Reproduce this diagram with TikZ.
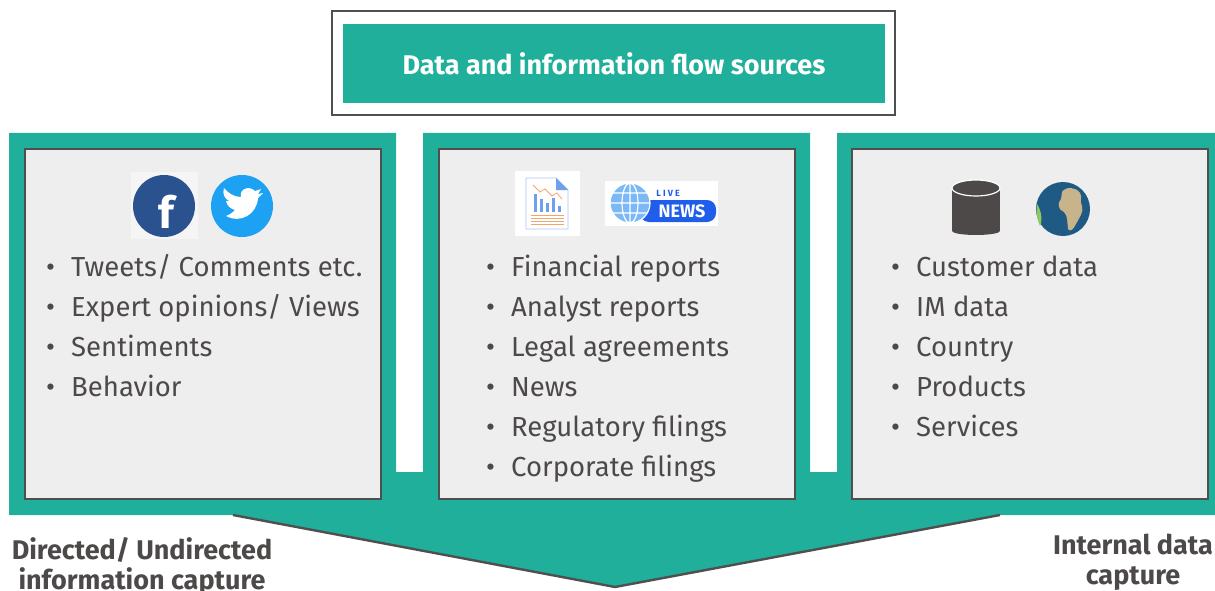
\documentclass[tikz,border=0pt]{standalone}
\usepackage{fontspec}
\setmainfont{Fira Sans}
\usepackage{tikz}

\definecolor{teal}{HTML}{20AF9B}
\definecolor{panelgray}{HTML}{EEEEEE}
\definecolor{edgegray}{HTML}{4F4F4F}
\definecolor{textgray}{HTML}{4D4949}
\definecolor{fbblue}{HTML}{29528F}
\definecolor{twblue}{HTML}{1DA1F2}
\definecolor{docblue}{HTML}{6FA0F0}
\definecolor{docorange}{HTML}{F2A66B}
\definecolor{newsblue}{HTML}{1E5EEB}
\definecolor{globeblue}{HTML}{7BB8F5}
\definecolor{earthblue}{HTML}{1F5A85}
\definecolor{earthland}{HTML}{C8B48A}

\tikzset{
  panel/.style={draw=edgegray, line width=1.6pt, fill=panelgray,
    minimum width=356pt, minimum height=350pt, inner sep=0pt},
  item/.style={anchor=base west, inner sep=0pt, text=textgray,
    font=\fontsize{27.5}{30}\selectfont},
  caption/.style={align=center, text=textgray, inner sep=0pt,
    font=\bfseries\fontsize{27}{30}\selectfont},
}
\newcommand{\bul}{\makebox[25pt][l]{\textbullet}}

\begin{document}
\begin{tikzpicture}[x=1pt,y=-1pt]
  \useasboundingbox (0,0) rectangle (1215,591);

  % header
  \node[draw=edgegray, line width=1.8pt, fill=white, minimum width=563pt,
    minimum height=104pt] (headbox) at (613.5,63) {};
  \node[fill=teal, minimum width=542pt, minimum height=79pt, text=white,
    font=\bfseries\fontsize{27}{30}\selectfont] (head) at (614,63.5)
    {Data and information flow sources};

  % teal frame with arrow
  \fill[teal] (9,133) -- (396,133) -- (396,472) -- (423,472) -- (423,133)
    -- (810,133) -- (810,472) -- (837,472) -- (837,133) -- (1215,133)
    -- (1215,515) -- (1000,515) -- (615,587) -- (233,515) -- (9,515) -- cycle;
  \coordinate (tipl) at (233,515);
  \coordinate (tip) at (615,587);
  \coordinate (tipr) at (1000,515);
  \draw[edgegray, line width=2.4pt, line join=miter] (tipl) -- (tip) -- (tipr);

  % panels
  \node[panel] (social) at (203,324) {};
  \node[panel] (docs) at (617,324) {};
  \node[panel] (internal) at (1030,324) {};

  % facebook and twitter
  \fill[black!4] (131,172) rectangle (198,239);
  \fill[fbblue] (164,206) circle (31);
  \node[text=white, font=\bfseries\fontsize{44}{44}\selectfont] (fb) at (166,212) {f};
  \fill[twblue] (242,206) circle (31);
  \fill[white] (226,216) .. controls (241,224) and (257,214) .. (258,198)
    -- (263,193) -- (258,194) -- (261,189) -- (255,191)
    .. controls (249,185) and (239,189) .. (241,197)
    .. controls (234,197) and (228,193) .. (224,188)
    .. controls (222,194) and (225,199) .. (229,201) -- (226,201)
    .. controls (227,206) and (231,209) .. (235,210)
    .. controls (232,213) and (229,215) .. (226,216) -- cycle;

  % report icon
  \fill[white] (515,171) rectangle (580,236);
  \draw[docblue!60, line width=0.8pt, fill=white] (526,178) -- (556,178)
    -- (568,190) -- (568,229) -- (526,229) -- cycle;
  \fill[docblue] (556,178) -- (568,190) -- (556,190) -- cycle;
  \fill[docblue] (534,194) rectangle (537,212);
  \fill[docblue] (540,199) rectangle (543,212);
  \fill[docblue] (546,203) rectangle (549,212);
  \fill[docblue] (552,198) rectangle (555,212);
  \fill[docblue] (558,206) rectangle (561,212);
  \draw[docorange, line width=0.8pt] (533,185) -- (540,192) -- (545,189)
    -- (552,196) -- (557,193) -- (562,199);
  \draw[docorange, line width=0.8pt] (531,215) -- (564,215)
    (531,218) -- (564,218) (531,221) -- (564,221) (531,224) -- (564,224);

  % live news icon
  \fill[white] (605,181) rectangle (718,226);
  \fill[newsblue, rounded corners=9pt] (640,200) rectangle (716,222);
  \fill[globeblue] (630,203) circle (20);
  \draw[white, line width=1.2pt] (630,203) circle (20)
    (630,203) ellipse (8 and 20) (610,203) -- (650,203)
    (613,193) -- (647,193) (613,213) -- (647,213) (630,183) -- (630,223);
  \node[text=newsblue, font=\bfseries\fontsize{9}{9}\selectfont] (live) at (668,193) {L I V E};
  \node[text=white, font=\bfseries\fontsize{18}{18}\selectfont] (news) at (682,211) {NEWS};

  % database icon
  \fill[textgray] (952,188) rectangle (1000,231);
  \fill[textgray] (976,231) ellipse (24 and 4);
  \draw[white, line width=1.2pt, fill=textgray] (976,188) ellipse (24 and 8);

  % earth icon
  \fill[earthblue] (1063,209) circle (27);
  \fill[earthland] (1062,192) .. controls (1066,186) and (1076,187) .. (1080,193)
    .. controls (1083,198) and (1079,200) .. (1082,206)
    .. controls (1084,212) and (1079,218) .. (1076,224)
    .. controls (1073,230) and (1070,232) .. (1068,229)
    .. controls (1067,222) and (1068,216) .. (1064,212)
    .. controls (1058,210) and (1057,203) .. (1061,199)
    .. controls (1063,197) and (1060,195) .. (1062,192) -- cycle;
  \fill[earthland!70!green] (1037,204) .. controls (1041,210) and (1043,220) .. (1040,226)
    .. controls (1037,220) and (1036,212) .. (1037,204) -- cycle;

  % social items
  \node[item] (s1) at (46,276) {\bul Tweets/ Comments etc.};
  \node[item] (s2) at (46,316) {\bul Expert opinions/ Views};
  \node[item] (s3) at (46,356) {\bul Sentiments};
  \node[item] (s4) at (46,396) {\bul Behavior};

  % document items
  \node[item] (d1) at (486,276) {\bul Financial reports};
  \node[item] (d2) at (486,316) {\bul Analyst reports};
  \node[item] (d3) at (486,356) {\bul Legal agreements};
  \node[item] (d4) at (486,396) {\bul News};
  \node[item] (d5) at (486,436) {\bul Regulatory filings};
  \node[item] (d6) at (486,476) {\bul Corporate filings};

  % internal items
  \node[item] (i1) at (891,276) {\bul Customer data};
  \node[item] (i2) at (891,316) {\bul IM data};
  \node[item] (i3) at (891,356) {\bul Country};
  \node[item] (i4) at (891,396) {\bul Products};
  \node[item] (i5) at (891,436) {\bul Services};

  % captions
  \node[caption, anchor=north] (cleft) at (142,537) {Directed/ Undirected\\information capture};
  \node[caption, anchor=north] (cright) at (1133,534) {Internal data\\capture};
\end{tikzpicture}
\end{document}
